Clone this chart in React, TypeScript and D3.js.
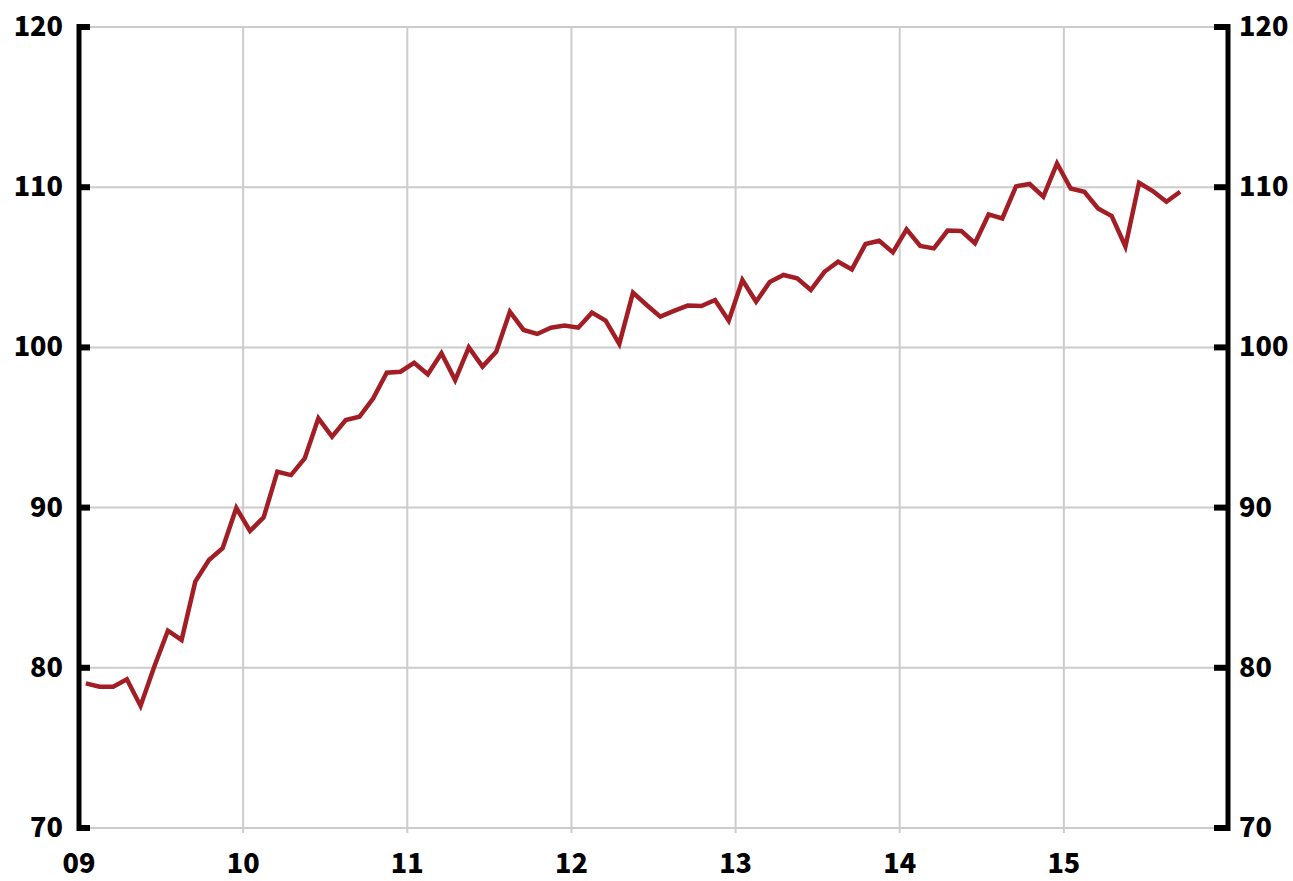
import React from "react";
import * as d3 from "d3";

const startYear = 2009;
const yearTicks = [2009, 2010, 2011, 2012, 2013, 2014, 2015];
const yTicks = [70, 80, 90, 100, 110, 120];
const values = [
  // 2009
  79.03, 78.82, 78.82, 79.28, 77.62, 80.07, 82.32, 81.74, 85.38, 86.73, 87.46, 89.98,
  // 2010
  88.54, 89.39, 92.24, 92.03, 93.07, 95.57, 94.43, 95.47, 95.67, 96.81, 98.42, 98.48,
  // 2011
  99.04, 98.32, 99.63, 97.96, 100.0, 98.8, 99.72, 102.23, 101.09, 100.84, 101.23, 101.36,
  // 2012
  101.23, 102.17, 101.67, 100.22, 103.42, 102.65, 101.92, 102.28, 102.61, 102.58, 102.96, 101.67,
  // 2013
  104.21, 102.85, 104.09, 104.52, 104.31, 103.58, 104.72, 105.35, 104.87, 106.45, 106.66, 105.93,
  // 2014
  107.37, 106.33, 106.18, 107.29, 107.27, 106.5, 108.3, 108.05, 110.05, 110.2, 109.41, 111.48,
  // 2015
  109.92, 109.71, 108.67, 108.2, 106.3, 110.28, 109.76, 109.09, 109.72,
];

const W = 1293;
const H = 881;
const left = 79;
const right = 1228;
const top = 27;
const bottom = 828;

export default function App() {
  const x = d3.scaleLinear().domain([2009, 2016]).range([left, right]);
  const y = d3.scaleLinear().domain([70, 120]).range([bottom, top]);
  const pts: [number, number][] = values.map((v, i) => [startYear + (i + 0.5) / 12, v]);
  const line = d3
    .line<[number, number]>()
    .x((d) => x(d[0]))
    .y((d) => y(d[1]));
  const font = "'Noto Sans CJK KR', 'Noto Sans', sans-serif";
  return (
    <svg
      width={W}
      height={H}
      style={{ position: "absolute", left: 0, top: 0, background: "#fff" }}
    >
      {yTicks.map((t) => (
        <line key={"h" + t} x1={left} x2={right} y1={y(t)} y2={y(t)} stroke="#cccccc" strokeWidth={2} />
      ))}
      {yearTicks.slice(1).map((t) => (
        <line key={"v" + t} x1={x(t)} x2={x(t)} y1={top} y2={bottom + 5} stroke="#cccccc" strokeWidth={2} />
      ))}
      <path d={line(pts) || ""} fill="none" stroke="#A31D25" strokeWidth={4.5} strokeLinejoin="miter" />
      <line x1={left} x2={left} y1={top - 3} y2={bottom + 3} stroke="#000" strokeWidth={5} />
      <line x1={right} x2={right} y1={top - 3} y2={bottom + 3} stroke="#000" strokeWidth={5} />
      {yTicks.map((t) => (
        <g key={"t" + t}>
          <line x1={left} x2={left + 11} y1={y(t)} y2={y(t)} stroke="#000" strokeWidth={6} />
          <line x1={right - 14} x2={right} y1={y(t)} y2={y(t)} stroke="#000" strokeWidth={6} />
          <text x={left - 16} y={y(t)} dy="0.33em" textAnchor="end" fontFamily={font} fontWeight={900} fontSize={27} fill="#000">
            {t}
          </text>
          <text x={right + 11} y={y(t)} dy="0.33em" textAnchor="start" fontFamily={font} fontWeight={900} fontSize={27} fill="#000">
            {t}
          </text>
        </g>
      ))}
      {yearTicks.map((t) => (
        <text key={"x" + t} x={x(t)} y={bottom + 45} textAnchor="middle" fontFamily={font} fontWeight={900} fontSize={27} fill="#000">
          {String(t % 100).padStart(2, "0")}
        </text>
      ))}
    </svg>
  );
}
